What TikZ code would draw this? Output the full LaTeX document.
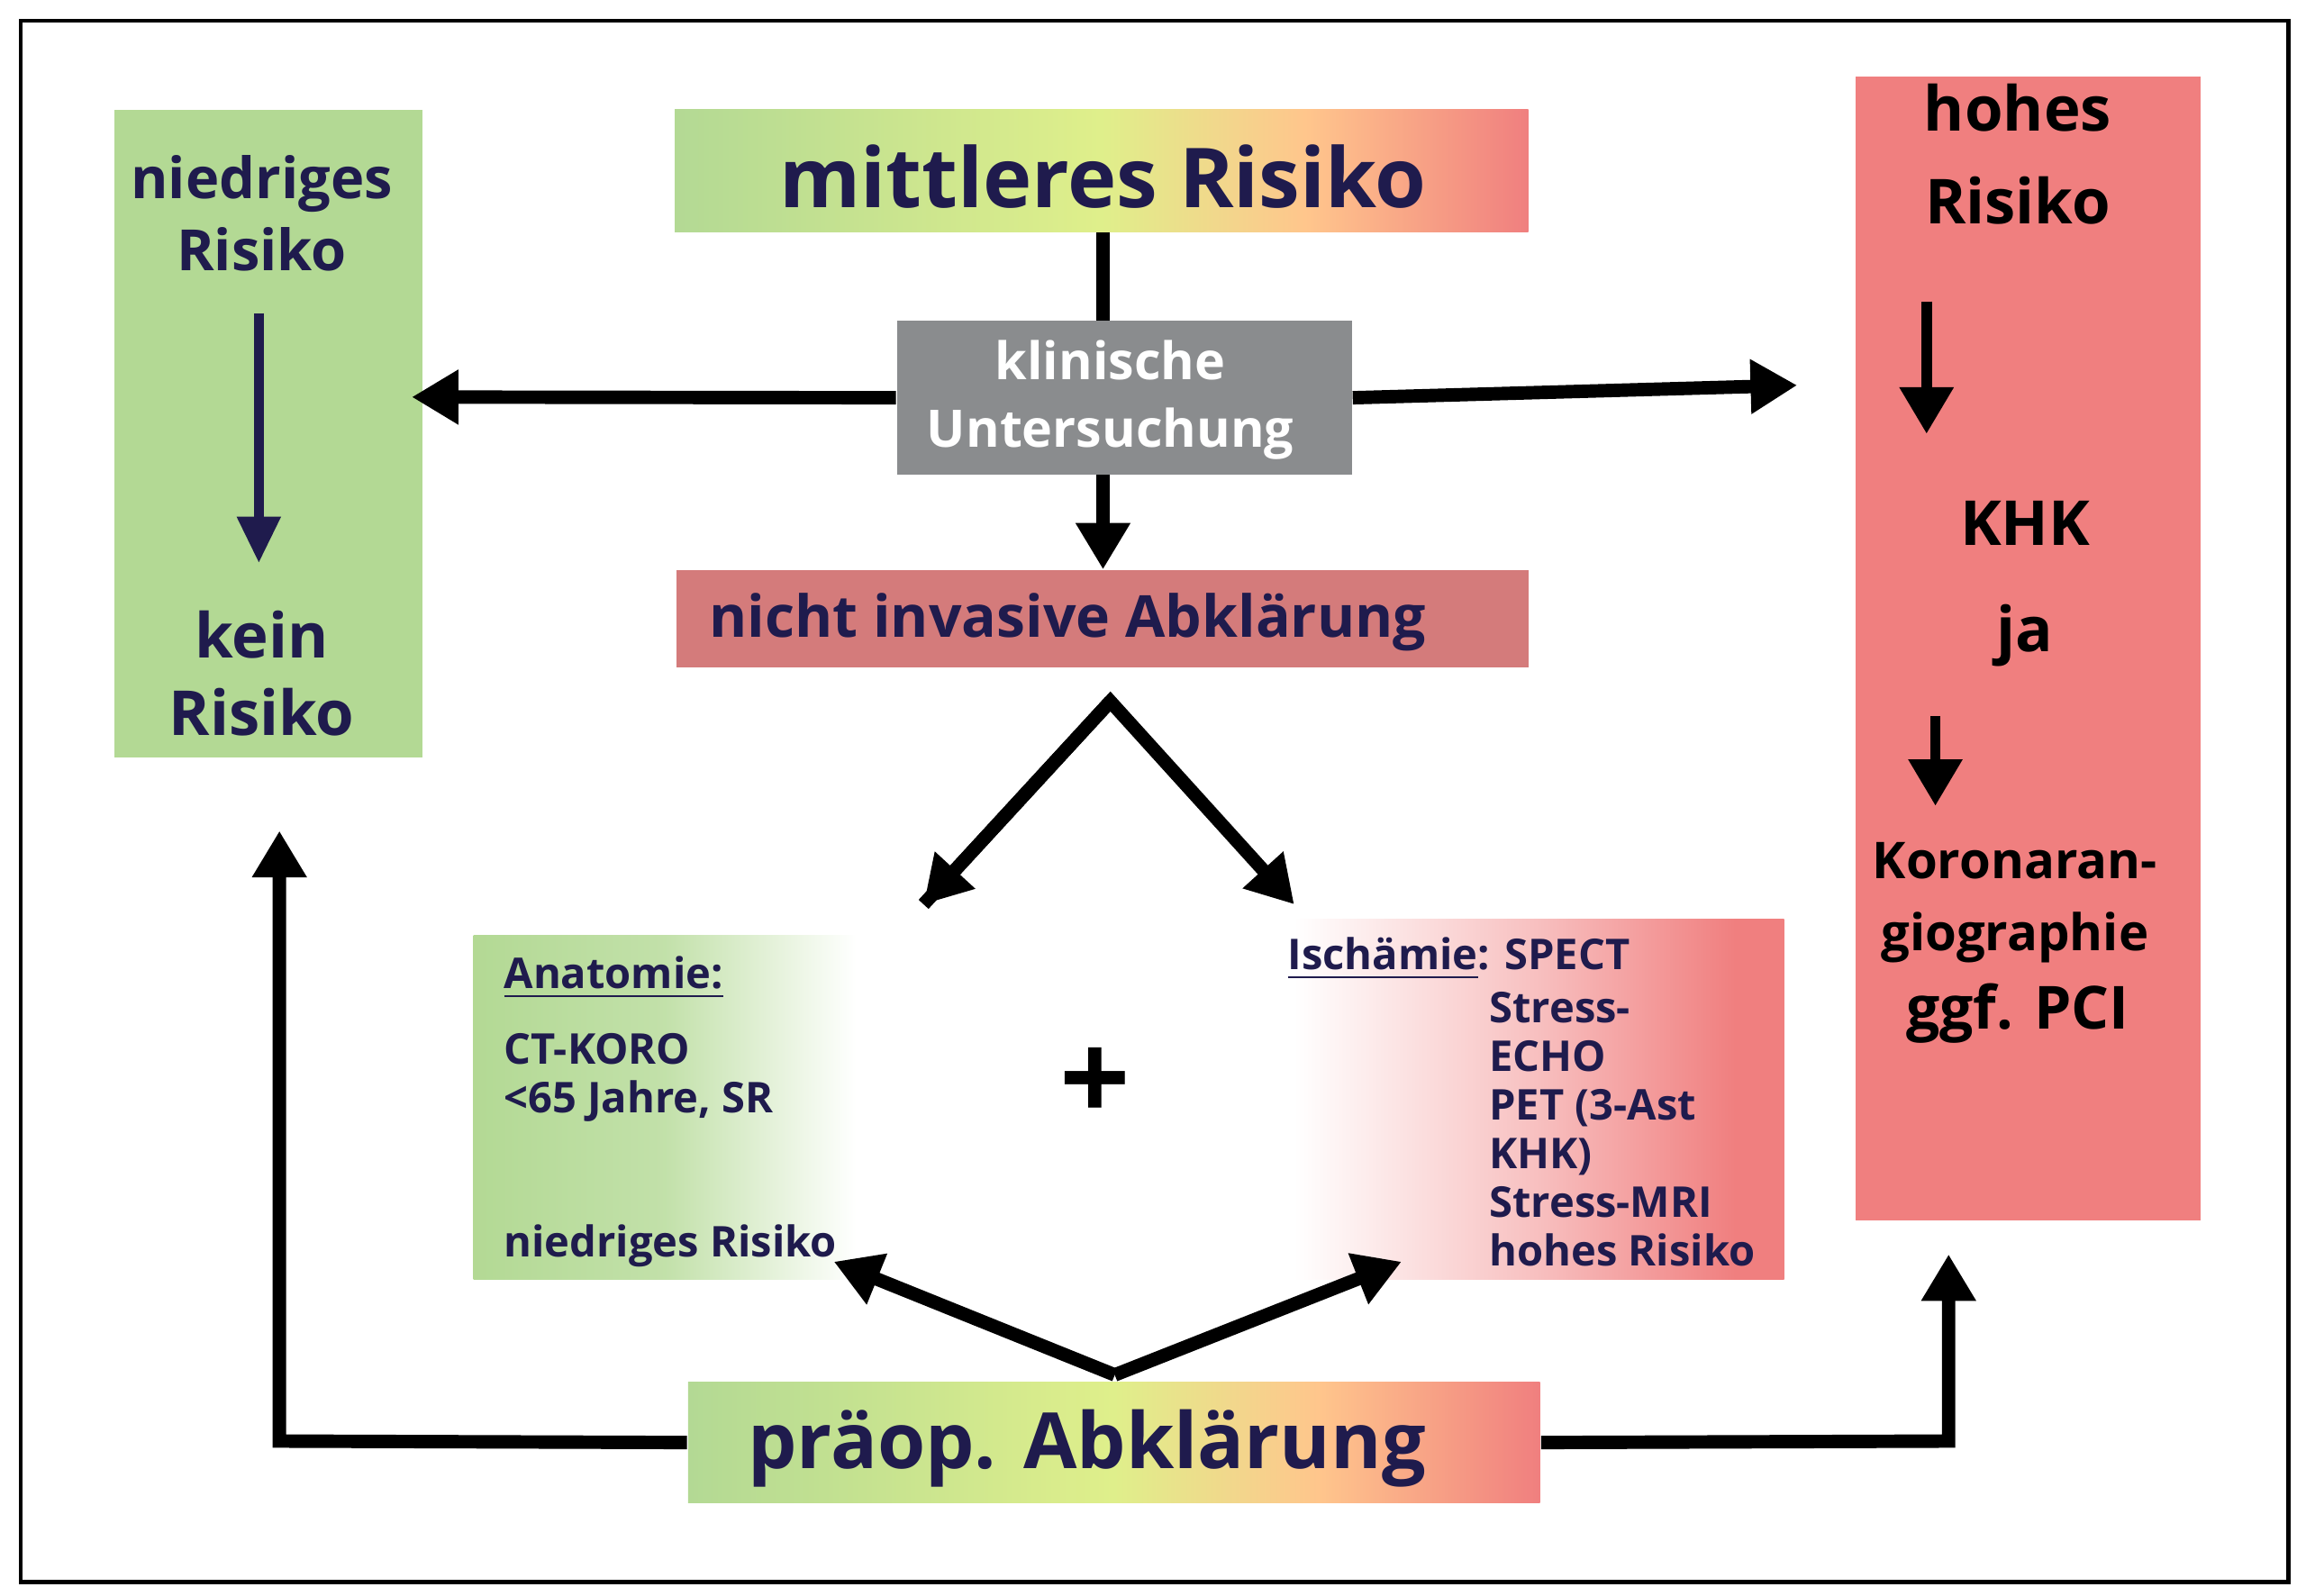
\documentclass[tikz,border=0pt]{standalone}
\usepackage{fontspec}
\setmainfont{Open Sans}
\usetikzlibrary{positioning,arrows.meta}
\definecolor{navy}{HTML}{1F1B4D}
\definecolor{lgreen}{HTML}{B3D994}
\definecolor{lred}{HTML}{F07F7F}
\definecolor{mred}{HTML}{D47B7B}
\definecolor{lgray}{HTML}{8A8C8E}
\pgfdeclarehorizontalshading{risk}{100bp}{color(0bp)=(lgreen); color(25bp)=(lgreen); color(50bp)=(lgreen!60!yellow!70!white); color(62bp)=(orange!45!white); color(75bp)=(lred); color(100bp)=(lred)}
\pgfdeclarehorizontalshading{greenfade}{100bp}{color(0bp)=(lgreen); color(25bp)=(lgreen); color(50bp)=(lgreen!80!white); color(75bp)=(white); color(100bp)=(white)}
\pgfdeclarehorizontalshading{redfade}{100bp}{color(0bp)=(white); color(25bp)=(white); color(50bp)=(lred!50!white); color(70bp)=(lred); color(100bp)=(lred)}
\tikzset{
  box/.style={inner sep=0pt, align=center},
  arr/.style={->, line width=2.6pt, >={Triangle[length=9pt,width=10pt]}},
  line/.style={line width=2.6pt},
  narr/.style={->, line width=2pt, color=navy, >={Triangle[length=9pt,width=8pt]}},
}
\begin{document}
\begin{tikzpicture}[x=0.01cm, y=-0.01cm]
\useasboundingbox (0,0) rectangle (1568,1085);
\draw[line width=0.8pt] (14,14) rectangle (1556,1076);

% niedriges Risiko
\node[box, fill=lgreen, minimum width=2.09cm, minimum height=4.40cm] (low) at (182.5,295) {};
\node[box, text=navy, font=\bfseries\fontsize{11}{14}\selectfont] (lowt) at (178,145) {niedriges\\Risiko};
\node[box, text=navy, font=\bfseries\fontsize{12}{15}\selectfont] (kein) at (178,458) {kein\\Risiko};
\coordinate (l1) at (176,213);
\coordinate (l2) at (176,383);
\draw[narr] (l1) -- (l2);

% mittleres Risiko
\node[box, shading=risk, minimum width=5.80cm, minimum height=0.83cm] (mid) at (749,116) {};
\node[box, text=navy, font=\bfseries\fontsize{16}{19}\selectfont] (midt) at (750,120) {mittleres Risiko};

% klinische Untersuchung
\node[box, fill=lgray, minimum width=3.09cm, minimum height=1.05cm] (klin) at (764.5,270.5) {};
\node[box, text=white, font=\bfseries\fontsize{10}{13}\selectfont] (klint) at (755,272) {klinische\\Untersuchung};
\draw[line] (mid.south -| 750,0) -- (750,218);
\coordinate (kl) at (280,270);
\coordinate (kr) at (1222,262);
\draw[arr] (klin.west) -- (kl);
\draw[arr] (klin.east) -- (kr);

% nicht invasive Abklaerung
\node[box, fill=mred, minimum width=5.79cm, minimum height=0.66cm] (ni) at (749.5,421) {};
\node[box, text=navy, font=\bfseries\fontsize{11.2}{14}\selectfont] (nit) at (726,423) {nicht invasive Abklärung};
\draw[arr] (750,323) -- (ni.north -| 750,0);
\coordinate (top) at (755,477);
\coordinate (a1) at (628,615);
\coordinate (a2) at (880,615);
\draw[line, -{Triangle[length=9pt,width=10pt]}] (a1) -- (top) -- (a2);
\draw[arr] (top) -- (a1);

% Anatomie / Ischaemie
\node[box, shading=greenfade, minimum width=2.6cm, minimum height=2.34cm] (ana) at (452,753) {};
\node[box, shading=redfade, minimum width=3.33cm, minimum height=2.45cm] (isch) at (1046.5,747.5) {};
\begin{scope}[font=\bfseries\fontsize{8.2}{9.4}\selectfont, text=navy]
\node[anchor=west, inner sep=0pt] (ana1) at (342,665) {\underline{Anatomie:}};
\node[anchor=north west, align=left, inner sep=0pt] (ana2) at (342,702) {CT-KORO\\<65 Jahre, SR};
\node[anchor=west, inner sep=0pt] (ana3) at (342,847) {niedriges Risiko};
\node[anchor=west, inner sep=0pt] (is1) at (875,652) {\underline{Ischämie}: SPECT};
\node[anchor=north west, align=left, inner sep=0pt] (is2) at (1012,674) {Stress-\\ECHO\\PET (3-Ast\\KHK)\\Stress-MRI\\hohes Risiko};
\end{scope}
\node[font=\bfseries\fontsize{24}{24}\selectfont] (plus) at (745,738) {+};

% praeop. Abklaerung
\node[box, shading=risk, minimum width=5.79cm, minimum height=0.82cm] (pre) at (757.5,981) {};
\node[box, text=navy, font=\bfseries\fontsize{15}{18}\selectfont] (pret) at (739,985) {präop. Abklärung};
\coordinate (b0) at (758,935);
\coordinate (b1) at (567,858);
\coordinate (b2) at (953,858);
\draw[arr] (b0) -- (b1);
\draw[arr] (b0) -- (b2);
\coordinate (pl) at (190,565);
\coordinate (pr) at (1325,853);
\draw[arr] (pre.west) -- (190,980) -- (pl);
\draw[arr] (pre.east) -- (1325,980) -- (pr);

% hohes Risiko
\node[box, fill=lred, minimum width=2.34cm, minimum height=7.78cm] (high) at (1379,441) {};
\node[box, font=\bfseries\fontsize{12}{18}\selectfont] (ht) at (1372,105) {hohes\\Risiko};
\node[box, font=\bfseries\fontsize{12}{15}\selectfont] (khk) at (1377,356) {KHK};
\node[box, font=\bfseries\fontsize{12}{15}\selectfont] (ja) at (1377,432) {ja};
\node[box, font=\bfseries\fontsize{9.8}{14}\selectfont] (kor) at (1370,614) {Koronaran-\\giographie};
\node[box, font=\bfseries\fontsize{11.5}{14}\selectfont] (pci) at (1372,689) {ggf. PCI};
\coordinate (h1) at (1310,205);
\coordinate (h2) at (1310,295);
\coordinate (h3) at (1316,487);
\coordinate (h4) at (1316,548);
\draw[arr, line width=2pt] (h1) -- (h2);
\draw[arr, line width=2pt] (h3) -- (h4);
\end{tikzpicture}
\end{document}
